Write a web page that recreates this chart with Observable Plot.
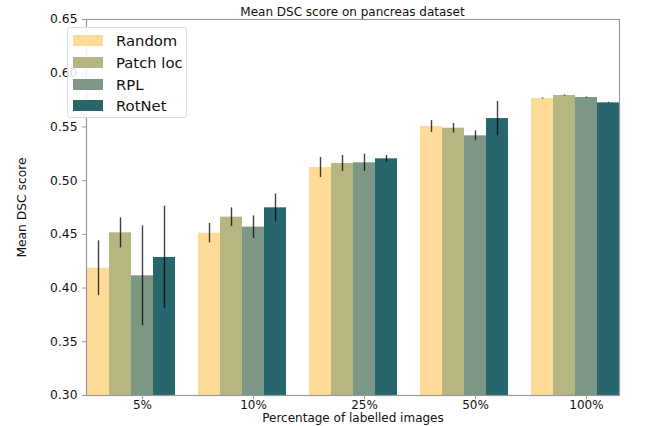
<!DOCTYPE html>
<html>
<head>
<meta charset="utf-8">
<script src="https://cdn.jsdelivr.net/npm/d3@7"></script>
<script src="https://cdn.jsdelivr.net/npm/@observablehq/plot@0.6"></script>
<style>
  html, body { margin: 0; padding: 0; background: #fff; }
  body { width: 656px; height: 426px; position: relative; font-family: "DejaVu Sans", sans-serif; }
  #title { position: absolute; left: 59px; top: 5px; width: 587px; text-align: center; font-size: 12px; line-height: 14px; color: #111; }
  #legend { position: absolute; left: 67px; top: 27px; width: 120px; height: 91px; box-sizing: border-box; border: 1px solid #ddd; border-radius: 3px; background: rgba(255,255,255,0.85); }
  .row { position: absolute; left: 5px; height: 20px; display: flex; align-items: center; }
  .sw { width: 30px; height: 11px; margin-right: 13px; }
  .lb { font-size: 14.8px; color: #111; }
</style>
</head>
<body>
<div id="chart"></div>
<div id="title">Mean DSC score on pancreas dataset</div>
<div id="legend"></div>
<script>
const groups = ["5%", "10%", "25%", "50%", "100%"];
const series = ["Random", "Patch loc", "RPL", "RotNet"];
const colors = ["#FEDC97", "#B5B682", "#7C9885", "#28666E"];

const randomMean = [0.4185, 0.4511, 0.5122, 0.5504, 0.5765];
const randomErr  = [0.0255, 0.0090, 0.0093, 0.0055, 0.0005];
const patchMean  = [0.4514, 0.4660, 0.5160, 0.5488, 0.5793];
const patchErr   = [0.0140, 0.0087, 0.0075, 0.0045, 0.0005];
const rplMean    = [0.4114, 0.4567, 0.5166, 0.5417, 0.5774];
const rplErr     = [0.0466, 0.0105, 0.0080, 0.0045, 0.0005];
const rotMean    = [0.4285, 0.4747, 0.5203, 0.5578, 0.5724];
const rotErr     = [0.0477, 0.0129, 0.0031, 0.0160, 0.0005];

const yTicks = [0.30, 0.35, 0.40, 0.45, 0.50, 0.55, 0.60, 0.65];
const tickSeries = "RPL";

const means = [randomMean, patchMean, rplMean, rotMean];
const errs = [randomErr, patchErr, rplErr, rotErr];
const rows = [];
groups.forEach((g, gi) => {
  series.forEach((s, si) => {
    rows.push({group: g, series: s, value: means[si][gi], err: errs[si][gi]});
  });
});

const frameColor = "#9a9a9a";

const chart = Plot.plot({
  width: 656,
  height: 426,
  marginTop: 19,
  marginLeft: 59,
  marginRight: 10,
  marginBottom: 31,
  style: {fontFamily: "DejaVu Sans, sans-serif", fontSize: "11.5px", color: "#111", background: "#fff"},
  fx: {domain: groups, paddingInner: 0.198, paddingOuter: 0.243, axis: null},
  x: {domain: series, padding: 0, axis: null},
  y: {domain: [0.30, 0.65], axis: null},
  color: {domain: series, range: colors},
  marks: [
    Plot.barY(rows, {fx: "group", x: "series", y: "value", fill: "series", clip: true}),
    Plot.ruleX(rows, {fx: "group", x: "series", y1: d => d.value - d.err, y2: d => d.value + d.err, stroke: "#000", strokeOpacity: 0.75, strokeWidth: 1.4}),
    Plot.axisY({ticks: yTicks, tickFormat: ".2f", tickSize: 4, stroke: frameColor, fill: "#111", label: "Mean DSC score", labelAnchor: "center", labelArrow: "none", labelOffset: 69, fontSize: 12.3}),
    Plot.axisX({ticks: [tickSeries], tickFormat: () => "", tickSize: 4, stroke: frameColor, label: null}),
    Plot.text(groups, {fx: d => d, x: () => tickSeries, text: d => d, frameAnchor: "bottom", dy: 13, fontSize: 12, fill: "#111"}),
    Plot.text(["Percentage of labelled images"], {facet: "super", frameAnchor: "bottom", dy: 26, text: d => d, fontSize: 12, fill: "#111"}),
    Plot.frame({facet: "super", stroke: frameColor, strokeWidth: 1.2})
  ]
});
document.getElementById("chart").appendChild(chart);

const legend = document.getElementById("legend");
const rowTops = [2, 24, 46, 67];
series.forEach((s, i) => {
  const r = document.createElement("div");
  r.className = "row";
  r.style.top = rowTops[i] + "px";
  const sw = document.createElement("div");
  sw.className = "sw";
  sw.style.background = colors[i];
  const lb = document.createElement("span");
  lb.className = "lb";
  lb.textContent = s;
  r.appendChild(sw);
  r.appendChild(lb);
  legend.appendChild(r);
});
</script>
</body>
</html>
